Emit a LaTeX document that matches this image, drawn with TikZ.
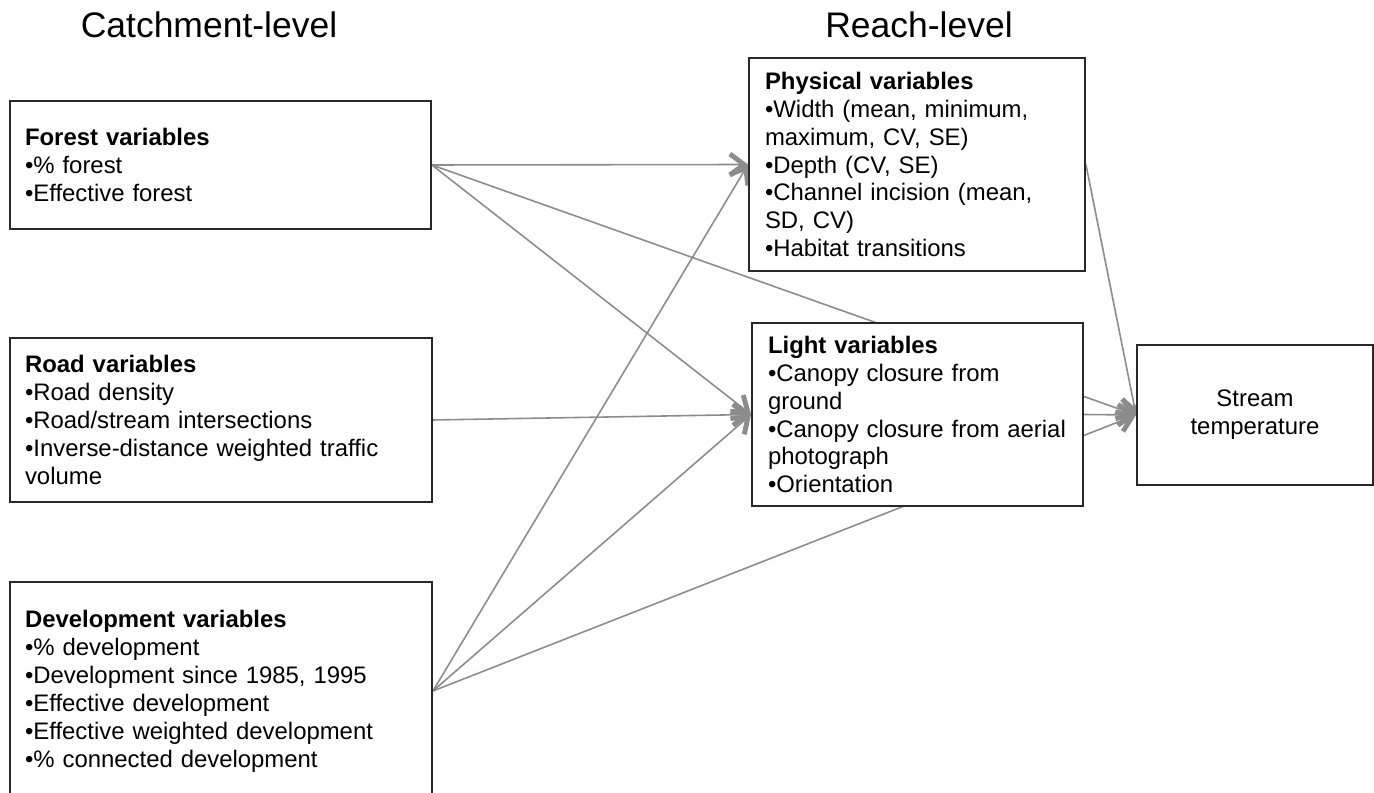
\documentclass[tikz,border=0pt]{standalone}
\usepackage{fontspec}
\setmainfont{Liberation Sans}
\usetikzlibrary{arrows.meta,backgrounds}
\definecolor{linegray}{RGB}{140,140,140}
\definecolor{boxline}{RGB}{40,40,40}
\begin{document}
\begin{tikzpicture}[x=0.02cm,y=-0.02cm,
    varbox/.style={draw=boxline,fill=white,line width=1.1pt,align=left,inner xsep=0.3cm,
      font=\fontsize{13.6}{15.9}\selectfont},
    link/.style={draw=linegray,line width=0.9pt,
      -{Straight Barb[length=8pt,width=12pt,line width=2.8pt]}},
    heading/.style={anchor=base,font=\fontsize{20.2}{24}\selectfont}]
    \useasboundingbox (0,0) rectangle (1374,793);

    \node[heading] (catch) at (209,38) {Catchment-level};
    \node[heading] (reach) at (919,38) {Reach-level};

    \node[varbox,minimum width=8.42cm,minimum height=2.56cm,text width=7.82cm] (forest) at (220.5,165) {
        \textbf{Forest variables}\\
        •\% forest\\
        •Effective forest};
    \node[varbox,minimum width=8.44cm,minimum height=3.28cm,text width=7.84cm] (road) at (221,420) {
        \textbf{Road variables}\\
        •Road density\\
        •Road/stream intersections\\
        •Inverse-distance weighted traffic\\
        volume};
    \node[varbox,minimum width=8.44cm,minimum height=4.36cm,text width=7.84cm] (devel) at (221,691) {
        \textbf{Development variables}\\
        •\% development\\
        •Development since 1985, 1995\\
        •Effective development\\
        •Effective weighted development\\
        •\% connected development};
    \node[varbox,minimum width=6.72cm,minimum height=4.26cm,text width=6.08cm,inner xsep=0.32cm] (physical) at (917,164.5) {
        \textbf{Physical variables}\\
        •Width (mean, minimum,\\
        maximum, CV, SE)\\
        •Depth (CV, SE)\\
        •Channel incision (mean,\\
        SD, CV)\\
        •Habitat transitions};
    \node[varbox,minimum width=6.62cm,minimum height=3.66cm,text width=5.98cm,inner xsep=0.32cm] (light) at (917.5,414.5) {
        \textbf{Light variables}\\
        •Canopy closure from\\
        ground\\
        •Canopy closure from aerial\\
        photograph\\
        •Orientation};
    \node[varbox,align=center,minimum width=4.72cm,minimum height=2.8cm] (stream) at (1255,415) {
        Stream\\
        temperature};

    \begin{scope}[on background layer]
        \draw[link] (forest.east) -- (physical.west);
        \draw[link] (forest.east) -- (light.west);
        \draw[link] (forest.east) -- (stream.west);
        \draw[link] (road.east) -- (light.west);
        \draw[link] (devel.east) -- (physical.west);
        \draw[link] (devel.east) -- (light.west);
        \draw[link] (devel.east) -- (stream.west);
        \draw[link] (physical.east) -- (stream.west);
        \draw[link] (light.east) -- (stream.west);
    \end{scope}
\end{tikzpicture}
\end{document}
